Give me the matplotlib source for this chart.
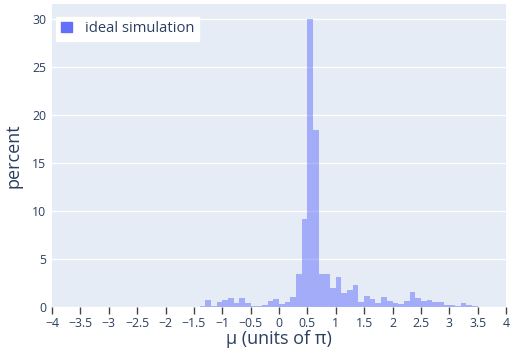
import numpy as np
import matplotlib
matplotlib.use("Agg")
import matplotlib.pyplot as plt

# histogram of mu, bins of width 0.1 (left edges), percent per bin
bin_width = 0.1
bin_left = [-1.4, -1.3, -1.2, -1.1, -1.0, -0.9, -0.8, -0.7, -0.6, -0.5,
            -0.4, -0.3, -0.2, -0.1, 0.0, 0.1, 0.2, 0.3, 0.4, 0.5,
            0.6, 0.7, 0.8, 0.9, 1.0, 1.1, 1.2, 1.3, 1.4, 1.5,
            1.6, 1.7, 1.8, 1.9, 2.0, 2.1, 2.2, 2.3, 2.4, 2.5,
            2.6, 2.7, 2.8, 2.9, 3.0, 3.1, 3.2, 3.3, 3.4, 3.5,
            3.6, 3.7]
percent = [0.15, 0.75, 0.12, 0.5, 0.72, 0.92, 0.42, 0.95, 0.45, 0.1,
           0.15, 0.18, 0.6, 0.8, 0.3, 0.5, 1.0, 3.4, 9.15, 30.0,
           18.4, 3.4, 3.45, 2.0, 3.15, 1.45, 1.8, 2.25, 0.5, 1.1,
           0.85, 0.38, 1.0, 0.65, 0.45, 0.35, 0.6, 1.6, 0.95, 0.58,
           0.76, 0.55, 0.55, 0.18, 0.17, 0.14, 0.42, 0.17, 0.12, 0.0,
           0.0, 0.05]

x_ticks = [-4, -3.5, -3, -2.5, -2, -1.5, -1, -0.5, 0, 0.5, 1, 1.5, 2, 2.5, 3, 3.5, 4]
x_tick_labels = ["\u22124", "\u22123.5", "\u22123", "\u22122.5", "\u22122", "\u22121.5",
                 "\u22121", "\u22120.5", "0", "0.5", "1", "1.5", "2", "2.5", "3", "3.5", "4"]
y_ticks = [0, 5, 10, 15, 20, 25, 30]

plt.rcParams['font.family'] = ['Open Sans', 'DejaVu Sans']
text_color = '#2a3f5f'

fig = plt.figure(figsize=(5.12, 3.56), dpi=100)
ax = fig.add_axes([52 / 512, 49 / 356, 454 / 512, 303 / 356])
ax.set_facecolor('#e5ecf6')

ax.bar(bin_left, percent, width=bin_width, align='edge', color='#636efa',
       alpha=0.5, linewidth=0, zorder=3)

ax.set_xlim(-4, 4)
ax.set_ylim(0, 31.56)
ax.set_xticks(x_ticks)
ax.set_xticklabels(x_tick_labels)
ax.set_yticks(y_ticks)
ax.yaxis.grid(True, color='white', linewidth=1, zorder=0)
ax.set_axisbelow(True)
for s in ax.spines.values():
    s.set_visible(False)

ax.tick_params(axis='x', length=5, width=1, color='#444444', direction='out',
               labelsize=8.8, labelcolor=text_color, pad=2)
ax.tick_params(axis='y', length=0, labelsize=8.8, labelcolor=text_color, pad=4)

ax.set_xlabel('\u03bc (units of \u03c0)', fontsize=13, color=text_color, labelpad=0)
ax.set_ylabel('percent', fontsize=13, color=text_color, labelpad=7)

# legend with square marker
handle = plt.Rectangle((0, 0), 1, 1, color='#636efa')
leg = ax.legend([handle], ['ideal simulation'], loc='upper left',
                bbox_to_anchor=(0.009, 0.958), frameon=True, fancybox=False,
                framealpha=1, edgecolor='white', fontsize=10.6,
                handlelength=0.75, handleheight=0.75, handletextpad=0.9,
                borderpad=0.3, borderaxespad=0)
for t in leg.get_texts():
    t.set_color(text_color)

fig.savefig('out.png', dpi=100)
